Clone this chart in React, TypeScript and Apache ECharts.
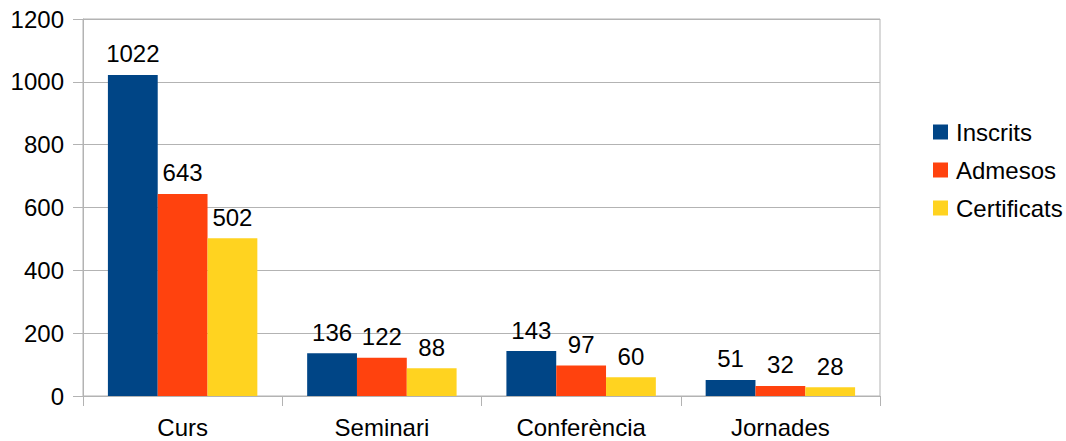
import React, { useEffect, useRef } from "react";
import * as echarts from "echarts";

const categories = ["Curs", "Seminari", "Conferència", "Jornades"];
const inscrits = [1022, 136, 143, 51];
const admesos = [643, 122, 97, 32];
const certificats = [502, 88, 60, 28];
const seriesNames = ["Inscrits", "Admesos", "Certificats"];
const colors = ["#004586", "#ff420e", "#ffd320"];

const FONT = "'Liberation Sans', Arial, sans-serif";
const FS = 24;

export default function App() {
  const ref = useRef<HTMLDivElement>(null);
  useEffect(() => {
    if (!ref.current) return;
    const chart = echarts.init(ref.current, undefined, { renderer: "svg" });
    const data = [inscrits, admesos, certificats];
    chart.setOption({
      animation: false,
      textStyle: { fontFamily: FONT },
      grid: {
        left: 83,
        right: 186,
        top: 19,
        bottom: 45,
        show: true,
        borderColor: "#b3b3b3",
        borderWidth: 1,
      },
      legend: {
        orient: "vertical",
        left: 933,
        top: 120,
        padding: 0,
        itemWidth: 15,
        itemHeight: 15,
        itemGap: 14,
        icon: "rect",
        textStyle: { fontSize: FS, color: "#000", fontFamily: FONT, padding: [0, 0, 0, 3] },
        data: seriesNames,
      },
      xAxis: {
        type: "category",
        data: categories,
        axisLine: { lineStyle: { color: "#b3b3b3" } },
        axisTick: { show: true, length: 10, lineStyle: { color: "#b3b3b3" } },
        axisLabel: { fontSize: FS, color: "#000", margin: 19, fontFamily: FONT },
        splitLine: { show: false },
      },
      yAxis: {
        type: "value",
        min: 0,
        max: 1200,
        interval: 200,
        axisLine: { show: true, lineStyle: { color: "#b3b3b3" } },
        axisTick: { show: true, length: 10, lineStyle: { color: "#b3b3b3" } },
        axisLabel: {
          fontSize: FS,
          color: "#000",
          margin: 19,
          fontFamily: FONT,
          formatter: (v: number) => String(v),
        },
        splitLine: { show: true, lineStyle: { color: "#b3b3b3" } },
      },
      series: seriesNames.map((name, i) => ({
        name,
        type: "bar",
        data: data[i],
        barGap: "0%",
        barCategoryGap: "25%",
        itemStyle: { color: colors[i] },
        label: {
          show: true,
          position: "top",
          distance: 9,
          fontSize: FS,
          color: "#000",
          fontFamily: FONT,
        },
      })),
    });
    return () => chart.dispose();
  }, []);
  return (
    <div
      ref={ref}
      style={{ position: "absolute", left: 0, top: 0, width: 1066, height: 441 }}
    />
  );
}
